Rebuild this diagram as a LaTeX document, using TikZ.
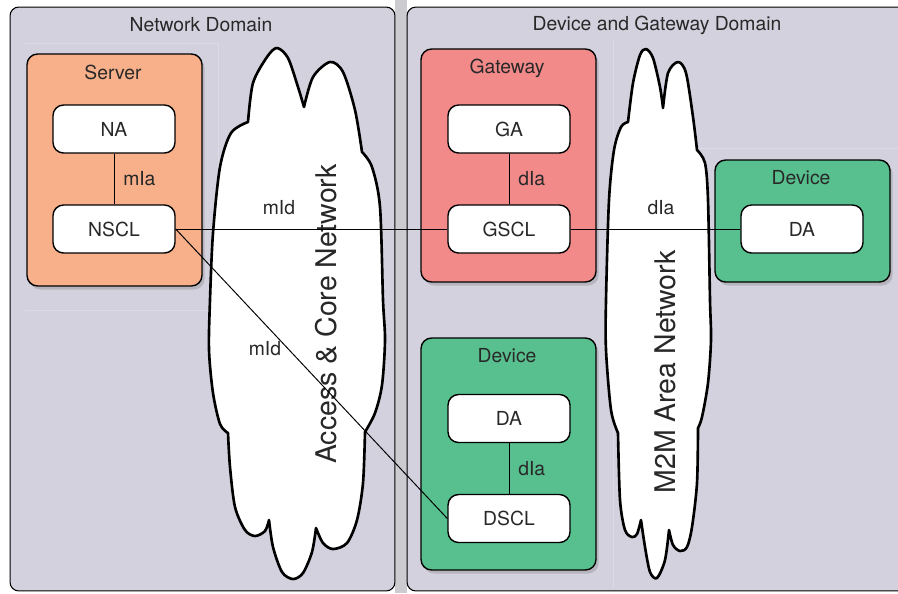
\documentclass[tikz,border=0pt]{standalone}
\usepackage{fontspec}
\setmainfont{TeX Gyre Heros}
\usetikzlibrary{shadows}

\definecolor{domfill}{RGB}{212,209,222}
\definecolor{domline}{RGB}{220,218,229}
\definecolor{gapgray}{RGB}{204,204,208}
\definecolor{serverfill}{RGB}{247,176,138}
\definecolor{gwfill}{RGB}{242,138,138}
\definecolor{devfill}{RGB}{88,192,142}
\definecolor{txt}{RGB}{40,40,40}

\begin{document}
\begin{tikzpicture}[
  x=0.02cm, y=-0.02cm,
  font=\fontsize{11}{13}\selectfont, text=txt,
  domainbox/.style={draw, rounded corners=5pt, fill=domfill, line width=0.6pt, minimum height=11.68cm},
  groupbox/.style={draw, rounded corners=6pt, line width=0.8pt, minimum width=3.5cm,
    drop shadow={opacity=0.35, shadow xshift=1.5pt, shadow yshift=-2pt}},
  entity/.style={draw, rounded corners=6pt, fill=white, line width=0.8pt, minimum width=2.44cm, minimum height=0.96cm},
  cloudshape/.style={draw, fill=white, line width=1.5pt, line join=round},
  cloudtext/.style={rotate=90, font=\fontsize{16.2}{19}\selectfont},
  link/.style={line width=0.55pt},
  reflabel/.style={inner sep=1pt},
]
\useasboundingbox (0,0) rectangle (898,593);
\fill[gapgray] (395,0) rectangle (407,593);

% ===== Domains =====
\node[domainbox, minimum width=7.7cm] (netdom) at (202.5,299) {};
\node[domainbox, minimum width=10.06cm] (devdom) at (658.5,299) {};
\draw[domline, line width=0.4pt] (25,43) -- (218,43) -- (218,310) -- (25,310);
\draw[domline, line width=0.4pt] (613,40) -- (613,588);
\draw[domline, line width=0.4pt] (613,148) -- (898,148);
\node (nettitle) at (201,25) {Network Domain};
\node (devtitle) at (657,25) {Device and Gateway Domain};

% ===== Access & Core Network cloud =====
\draw[cloudshape]
  plot[smooth] coordinates {(248,122) (253,83) (267,57) (277,48) (288,58) (298,87) (304,107)}
  -- plot[smooth] coordinates {(304,107) (313,77) (330,62) (343,72) (355,110) (362,152)}
  -- plot[smooth] coordinates {(362,152) (372,167) (380,207) (383,300) (385,340) (382,385) (375,413) (365,432)}
  -- plot[smooth] coordinates {(365,432) (363,483) (357,520) (347,543) (333,549) (323,543) (316,528)}
  -- plot[smooth] coordinates {(316,528) (312,552) (303,573) (293,579) (282,572) (273,547) (269,520)}
  -- plot[smooth] coordinates {(269,520) (265,531) (255,536) (245,530) (235,507) (230,467) (228,433)}
  -- plot[smooth] coordinates {(228,433) (220,424) (213,393) (209,350) (210,300) (213,233) (220,167) (231,133) (248,122)}
  -- cycle;
\node[cloudtext] (acn) at (326,314) {Access \& Core Network};

% ===== M2M Area Network cloud =====
\draw[cloudshape]
  plot[smooth] coordinates {(628,122) (633,83) (640,55) (646,49) (653,58) (660,87) (663,108)}
  -- plot[smooth] coordinates {(663,108) (668,73) (678,62) (686,73) (693,117) (697,150)}
  -- plot[smooth] coordinates {(697,150) (705,163) (708,200) (710,300) (711,340) (708,383) (702,417) (698,428)}
  -- plot[smooth] coordinates {(698,428) (697,483) (692,527) (687,547) (680,551) (673,545) (669,530)}
  -- plot[smooth] coordinates {(669,530) (665,560) (657,578) (650,572) (645,547) (641,520)}
  -- plot[smooth] coordinates {(641,520) (637,534) (632,537) (625,530) (620,500) (618,433)}
  -- plot[smooth] coordinates {(618,433) (611,410) (606,350) (606,300) (609,200) (614,150) (621,127) (628,122)}
  -- cycle;
\node[cloudtext] (m2m) at (665,372) {M2M Area Network};

% ===== Server =====
\node[groupbox, fill=serverfill, minimum height=4.64cm] (server) at (114.5,170) {};
\node (servertitle) at (113,72) {Server};
\node[entity] (na) at (114,129) {NA};
\node[entity] (nscl) at (114,229) {NSCL};
\draw[link] (na) -- (nscl) node[midway, right=4pt, reflabel] {mIa};

% ===== Gateway =====
\node[groupbox, fill=gwfill, minimum height=4.66cm] (gateway) at (508.5,165.5) {};
\node (gwtitle) at (507,68) {Gateway};
\node[entity] (ga) at (509,129) {GA};
\node[entity] (gscl) at (509,229) {GSCL};
\draw[link] (ga) -- (gscl) node[midway, right=4pt, reflabel] {dIa};

% ===== Device (right) =====
\node[groupbox, fill=devfill, minimum height=2.44cm] (dev1) at (802.5,221) {};
\node (dev1title) at (801,178) {Device};
\node[entity] (da1) at (802,229) {DA};

% ===== Device (bottom) =====
\node[groupbox, fill=devfill, minimum height=4.64cm] (dev2) at (508.5,454) {};
\node (dev2title) at (507,356) {Device};
\node[entity] (da2) at (509,418.5) {DA};
\node[entity] (dscl) at (509,518.5) {DSCL};
\draw[link] (da2) -- (dscl) node[midway, right=4pt, reflabel] {dIa};

% ===== Reference points across the networks =====
\draw[link] (nscl.east) -- (gscl.west);
\draw[link] (gscl.east) -- (da1.west);
\draw[link] (nscl.east) -- (dscl.west);
\node[reflabel] (mid1) at (279,208) {mId};
\node[reflabel] (dia1) at (661,208) {dIa};
\node[reflabel] (mid2) at (265,349) {mId};

\end{tikzpicture}
\end{document}
